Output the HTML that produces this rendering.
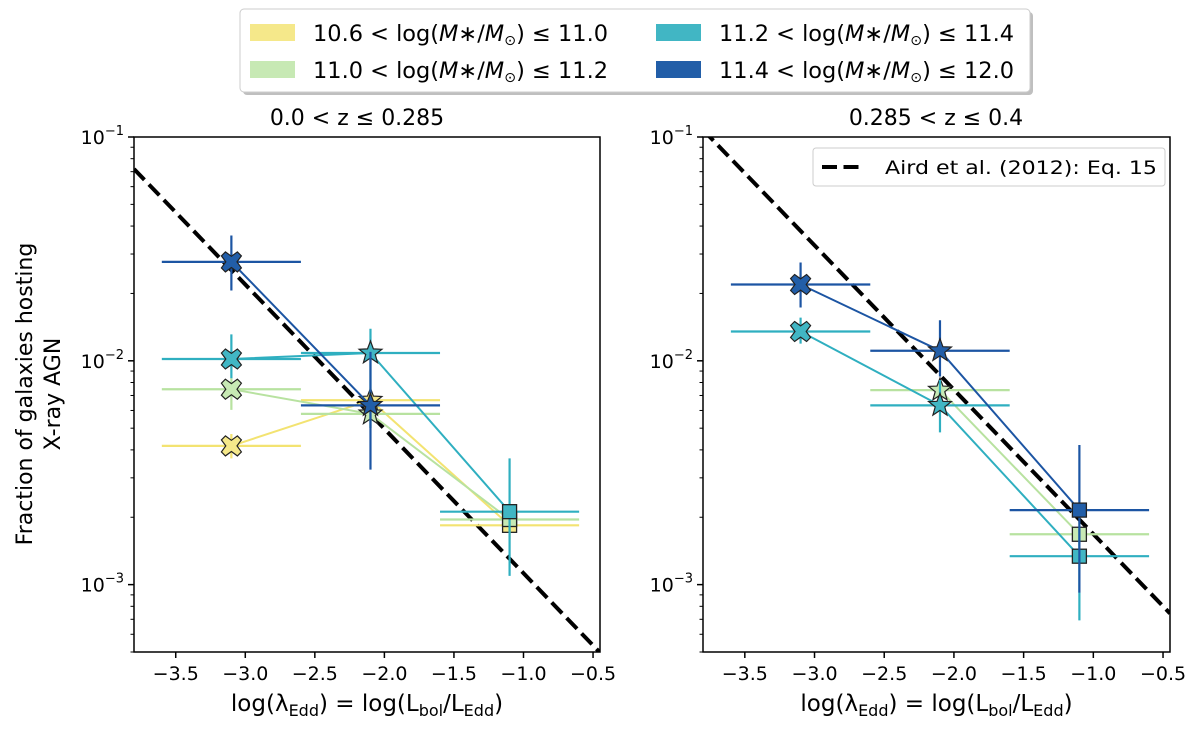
<!DOCTYPE html>
<html><head><meta charset="utf-8"><style>
html,body{margin:0;padding:0;background:#fff;}
svg{display:block;font-family:"DejaVu Sans","Liberation Sans",sans-serif;}
</style></head><body>
<svg id="fig" width="1200" height="731" viewBox="0 0 1200 731" xmlns="http://www.w3.org/2000/svg">
<g>
<rect x="243" y="12" width="790" height="83" rx="4" fill="#000" opacity="0.25"/>
<rect x="240" y="9" width="790" height="83" rx="4" fill="#fff" stroke="#ccc"/>
<rect x="250" y="24" width="45" height="17" fill="#f5e88a"/>
<text x="313" y="41" font-size="22" textLength="295" lengthAdjust="spacingAndGlyphs">10.6 &lt; log(<tspan font-style="italic">M</tspan>∗/<tspan font-style="italic">M</tspan><tspan font-size="14" dy="4">⊙</tspan><tspan dy="-4">) ≤ 11.0</tspan></text>
<rect x="250" y="61" width="45" height="17" fill="#c7e9b4"/>
<text x="313" y="78" font-size="22" textLength="295" lengthAdjust="spacingAndGlyphs">11.0 &lt; log(<tspan font-style="italic">M</tspan>∗/<tspan font-style="italic">M</tspan><tspan font-size="14" dy="4">⊙</tspan><tspan dy="-4">) ≤ 11.2</tspan></text>
<rect x="656" y="24" width="45" height="17" fill="#41b6c4"/>
<text x="719" y="41" font-size="22" textLength="295" lengthAdjust="spacingAndGlyphs">11.2 &lt; log(<tspan font-style="italic">M</tspan>∗/<tspan font-style="italic">M</tspan><tspan font-size="14" dy="4">⊙</tspan><tspan dy="-4">) ≤ 11.4</tspan></text>
<rect x="656" y="61" width="45" height="17" fill="#225ea8"/>
<text x="719" y="78" font-size="22" textLength="295" lengthAdjust="spacingAndGlyphs">11.4 &lt; log(<tspan font-style="italic">M</tspan>∗/<tspan font-style="italic">M</tspan><tspan font-size="14" dy="4">⊙</tspan><tspan dy="-4">) ≤ 12.0</tspan></text>
</g>
<text x="357" y="125" font-size="22" text-anchor="middle">0.0 &lt; z  ≤ 0.285</text>
<text x="936" y="125" font-size="22" text-anchor="middle">0.285 &lt; z  ≤ 0.4</text>
<text transform="translate(38,394) rotate(-90)" font-size="22" text-anchor="middle"><tspan x="0" y="-6">Fraction of galaxies hosting</tspan><tspan x="0" y="22">X-ray AGN</tspan></text>
<g id="panels"></g>
</svg>
<script>
const colors = ['#f5e88a','#c7e9b4','#41b6c4','#225ea8'];
const lineColors = ['#f3e371','#b8e2a0','#2fafc0','#1c55a3'];
const groupNames = ['low','mid','high','top'];
const xCenters = [-3.1,-2.1,-1.1];
const xHalfErr = 0.5;
const markers = ['x','star','square'];
const leftVals = [[-2.380,-2.176,-2.735],[-2.127,-2.237,-2.709],[-1.992,-1.965,-2.674],[-1.558,-2.199,null]];
const leftLo = [[-2.436,-2.26,-2.80],[-2.219,-2.30,-2.77],[-2.078,-2.30,-2.961],[-1.686,-2.486,null]];
const leftHi = [[-2.327,-2.12,-2.68],[-2.078,-2.18,-2.65],[-1.882,-1.857,-2.436],[-1.44,-1.96,null]];
const rightVals = [[null,null,null],[null,-2.131,-2.775],[-1.869,-2.199,-2.873],[-1.659,-1.955,-2.667]];
const rightLo = [[null,null,null],[null,-2.17,-2.83],[-1.923,-2.320,-3.16],[-1.762,-2.07,-3.036]];
const rightHi = [[null,null,null],[null,-2.09,-2.72],[-1.807,-2.086,-2.75],[-1.561,-1.819,-2.376]];
const airdSlope = -0.645;
const airdIntercept = [-1.143,-0.968];
const xTicks = [-3.5,-3.0,-2.5,-2.0,-1.5,-1.0,-0.5];
const xTickLabels = ['−3.5','−3.0','−2.5','−2.0','−1.5','−1.0','−0.5'];
const yMajor = [-1,-2,-3];
const yMajorLabels = ['−1','−2','−3'];

const NS='http://www.w3.org/2000/svg';
const root=document.getElementById('panels');
function mk(tag,attrs,parent){const e=document.createElementNS(NS,tag);for(const k in attrs)e.setAttribute(k,attrs[k]);(parent||root).appendChild(e);return e;}
const X0=-3.8,X1=-0.45,Y0=Math.log10(5e-4),Y1=-1;
const panels=[{L:134,R:600,T:137,B:652,vals:leftVals,lo:leftLo,hi:leftHi,name:'left'},
              {L:703,R:1170,T:137,B:652,vals:rightVals,lo:rightLo,hi:rightHi,name:'right'}];
function starPts(cx,cy,r){let p=[];for(let i=0;i<10;i++){const a=-Math.PI/2+i*Math.PI/5;const rr=i%2?r*0.42:r;p.push((cx+rr*Math.cos(a)).toFixed(1)+','+(cy+rr*Math.sin(a)).toFixed(1));}return p.join(' ');}
function xPts(cx,cy,s){const a=s,b=s*0.4;const pts=[[-a+b,-a],[0,-b*1.4],[a-b,-a],[a,-a+b],[b*1.4,0],[a,a-b],[a-b,a],[0,b*1.4],[-a+b,a],[-a,a-b],[-b*1.4,0],[-a,-a+b]];return pts.map(p=>(cx+p[0]).toFixed(1)+','+(cy+p[1]).toFixed(1)).join(' ');}
panels.forEach((P,pi)=>{
  const sx=v=>P.L+(v-X0)/(X1-X0)*(P.R-P.L);
  const sy=v=>P.B-(v-Y0)/(Y1-Y0)*(P.B-P.T);
  const g=mk('g',{});
  
  
  const clipId='clip'+pi;
  const cp=mk('clipPath',{id:clipId},g);mk('rect',{x:P.L,y:P.T,width:P.R-P.L,height:P.B-P.T},cp);
  const data=mk('g',{'clip-path':'url(#'+clipId+')'},g);
  const al=mk('line',{x1:sx(X0),y1:sy(airdIntercept[pi]),x2:sx(X1),y2:sy(airdIntercept[pi]+airdSlope*(X1-X0)),stroke:'#000','stroke-width':4,'stroke-dasharray':'15,6.5'},data);
  
  
  for(let gi=0;gi<4;gi++){
    const sg=mk('g',{},data);
    
    
    const v=P.vals[gi];let pts=[];
    v.forEach((y,i)=>{if(y!==null)pts.push(sx(xCenters[i]).toFixed(1)+','+sy(y).toFixed(1));});
    if(pts.length>1){const pl=mk('polyline',{points:pts.join(' '),fill:'none',stroke:lineColors[gi],'stroke-width':2},sg);
      
      }
    v.forEach((y,i)=>{if(y===null)return;
      const cx=sx(xCenters[i]),cy=sy(y);
      const eb=mk('path',{d:`M${sx(xCenters[i]-xHalfErr)},${cy}H${sx(xCenters[i]+xHalfErr)}M${cx},${sy(P.lo[gi][i])}V${sy(P.hi[gi][i])}`,stroke:lineColors[gi],'stroke-width':2.2,fill:'none'},sg);
      
      
    });
    v.forEach((y,i)=>{if(y===null)return;
      const cx=sx(xCenters[i]),cy=sy(y);let m;
      if(markers[i]==='x')m=mk('polygon',{points:xPts(cx,cy,10),fill:colors[gi],stroke:'#222','stroke-width':1.2},sg);
      else if(markers[i]==='star')m=mk('polygon',{points:starPts(cx,cy,12),fill:colors[gi],stroke:'#222','stroke-width':1.2},sg);
      else m=mk('rect',{x:cx-7,y:cy-7,width:14,height:14,fill:colors[gi],stroke:'#222','stroke-width':1.3},sg);
      
      
    });
  }
  const fr=mk('rect',{x:P.L,y:P.T,width:P.R-P.L,height:P.B-P.T,fill:'none',stroke:'#000','stroke-width':1.5},g);
  
  
  xTicks.forEach((t,i)=>{const x=sx(t);mk('line',{x1:x,y1:P.B,x2:x,y2:P.B+6,stroke:'#000','stroke-width':1.5},g);
    const tl=mk('text',{x:x,y:P.B+28,'font-size':19,'text-anchor':'middle'},g);tl.textContent=xTickLabels[i];
    
    });
  yMajor.forEach((t,i)=>{const y=sy(t);mk('line',{x1:P.L-6,y1:y,x2:P.L,y2:y,stroke:'#000','stroke-width':1.5},g);
    const tl=mk('text',{x:P.L-10,y:y+7,'font-size':19,'text-anchor':'end'},g);
    tl.innerHTML='10<tspan font-size="13" dy="-9">'+yMajorLabels[i]+'</tspan>';
    
    });
  for(let d=-4;d<=-2;d++)for(let k=2;k<=9;k++){const lv=d+Math.log10(k);if(lv<Y0||lv>Y1)continue;const y=sy(lv);mk('line',{x1:P.L-3.5,y1:y,x2:P.L,y2:y,stroke:'#000','stroke-width':1},g);}
  const xl=mk('text',{x:(P.L+P.R)/2,y:711,'font-size':23,'text-anchor':'middle'},g);
  xl.innerHTML='log(λ<tspan font-size="16" dy="5">Edd</tspan><tspan dy="-5">) = log(L</tspan><tspan font-size="16" dy="5">bol</tspan><tspan dy="-5">/L</tspan><tspan font-size="16" dy="5">Edd</tspan><tspan dy="-5">)</tspan>';
  
  
  if(pi===1){
    const lg=mk('g',{},g);
    
    
    mk('rect',{x:813,y:148,width:352,height:38,rx:3,fill:'#fff',stroke:'#ccc'},lg);
    mk('line',{x1:822,y1:167,x2:860,y2:167,stroke:'#000','stroke-width':4,'stroke-dasharray':'15,6.5'},lg);
    const t=mk('text',{x:885,y:174,'font-size':19,textLength:272,lengthAdjust:'spacingAndGlyphs'},lg);t.textContent='Aird et al. (2012): Eq. 15';
    
    
  }
});
</script>
</body></html>
